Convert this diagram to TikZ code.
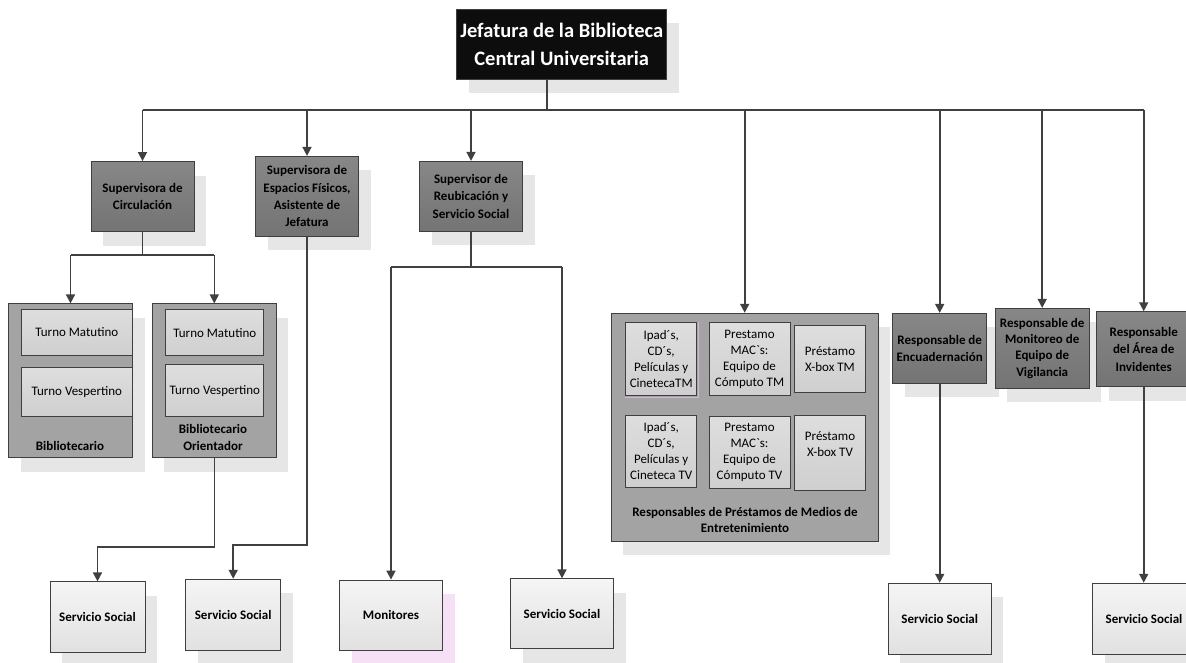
\documentclass[tikz,border=0pt]{standalone}
\usepackage{fontspec}
\setmainfont{Carlito}
\usetikzlibrary{arrows.meta,shadows}

\definecolor{linec}{HTML}{404040}
\definecolor{bordc}{HTML}{3F3F3F}
\definecolor{shadc}{HTML}{E6E6E6}
\definecolor{pinkc}{HTML}{F6E0F6}
\definecolor{pinkedge}{HTML}{D6B4D6}
\definecolor{darkT}{HTML}{878787}
\definecolor{darkB}{HTML}{747474}
\definecolor{contc}{HTML}{A3A3A3}
\definecolor{inT}{HTML}{DEDEDE}
\definecolor{inB}{HTML}{CFCFCF}
\definecolor{leafT}{HTML}{F5F5F5}
\definecolor{leafB}{HTML}{E1E1E1}
\definecolor{topc}{HTML}{0D0D0D}

\tikzset{
  sz/.style 2 args={minimum width=#1pt, minimum height=#2pt},
  base/.style={draw=bordc, line width=0.8pt, inner sep=0pt, align=center},
  shad/.style={drop shadow={shadow xshift=12pt, shadow yshift=-14pt, opacity=1, fill=shadc}},
  pshad/.style={drop shadow={shadow xshift=12pt, shadow yshift=-14pt, opacity=1, fill=pinkc}},
  topbox/.style={base, shad, fill=topc, text=white,
    font=\fontsize{20.5}{27.5}\selectfont\bfseries},
  dark/.style={base, shad, top color=darkT, bottom color=darkB,
    font=\fontsize{13}{17.3}\selectfont\bfseries},
  cont/.style={base, shad, fill=contc},
  inbox/.style={base, top color=inT, bottom color=inB,
    font=\fontsize{13}{16}\selectfont},
  leaf/.style={base, top color=leafT, bottom color=leafB,
    font=\fontsize{13}{16}\selectfont\bfseries},
  lbl/.style={inner sep=0pt, align=center, font=\fontsize{13}{16.3}\selectfont\bfseries},
  txt/.style={inner sep=0pt, align=center, font=\fontsize{13}{16}\selectfont},
  conn/.style={draw=linec, line width=1.6pt},
  arr/.style={conn, -{Triangle[length=9pt,width=9pt]}},
}

\begin{document}
\begin{tikzpicture}[x=1pt, y=-1pt]
\useasboundingbox (0,0) rectangle (1186,662);
\clip (0,0) rectangle (1186,662);

% head of the library
\node[topbox, sz={210}{70}] (jef) at (561.7,44.3) {Jefatura de la Biblioteca\\Central Universitaria};

% supervisors
\node[dark, sz={103}{70}] (circ) at (142.5,196.5) {Supervisora de\\Circulación};
\node[dark, sz={103}{80}] (esp) at (307,196.3) {Supervisora de\\Espacios Físicos,\\Asistente de\\Jefatura};
\node[dark, sz={103}{70}] (reub) at (471,196.3) {Supervisor de\\Reubicación y\\Servicio Social};

% librarian groups
\node[cont, sz={124}{154}] (bib) at (70.5,380.8) {};
\node[inbox, sz={111}{46}] (bibm) at (76.8,332) {Turno Matutino};
\node[inbox, sz={111}{49}] (bibv) at (76.8,392) {Turno Vespertino};
\node[lbl] (bibl) at (70,445.7) {Bibliotecario};

\node[cont, sz={124}{154}] (ori) at (214.3,380.8) {};
\node[inbox, sz={98}{46}] (orim) at (214.8,332.8) {Turno Matutino};
\node[inbox, sz={98}{52}] (oriv) at (214.8,390.7) {Turno Vespertino};
\node[lbl] (oril) at (213,437.5) {Bibliotecario\\Orientador};

% entertainment media loans
\node[cont, sz={267}{228}] (pres) at (744.7,427.2) {};
\node[inbox, sz={71}{73}] (ipadtm) at (661.2,359.2) {Ipad´s,\\CD´s,\\Películas y\\CinetecaTM};
\draw[draw=pinkedge, line width=0.7pt]
  ([xshift=0.9pt]ipadtm.north east) -- ([xshift=0.9pt,yshift=-0.9pt]ipadtm.south east)
  -- ([yshift=-0.9pt]ipadtm.south west);
\node[inbox, sz={81}{73}] (mactm) at (749.5,359.2) {Prestamo\\MAC\textasciigrave s:\\Equipo de\\Cómputo TM};
\node[inbox, sz={71}{67}] (xbtm) at (830,359) {Préstamo\\X-box TM};
\node[inbox, sz={71}{72}] (ipadtv) at (661.2,451) {Ipad´s,\\CD´s,\\Películas y\\Cineteca TV};
\node[inbox, sz={81}{72}] (mactv) at (749.5,452.6) {Prestamo\\MAC\textasciigrave s:\\Equipo de\\Cómputo TV};
\node[inbox, sz={71}{75}] (xbtv) at (830,452.5) {};
\node[txt] (xbtvt) at (830,444) {Préstamo\\X-box TV};
\node[lbl] (presl) at (745,520.2) {Responsables de Préstamos de Medios de\\Entretenimiento};

% other responsibles
\node[dark, sz={94}{70}] (enc) at (939.7,348.3) {Responsable de\\Encuadernación};
\node[dark, sz={94}{80}, font=\fontsize{13}{16.3}\selectfont\bfseries] (mvig) at (1042.2,348.3) {Responsable de\\Monitoreo de\\Equipo de\\Vigilancia};
\node[dark, sz={94}{75}] (inv) at (1143.7,349.2) {Responsable\\del Área de\\Invidentes};

% social service and monitors
\node[leaf, shad, sz={95}{71}] (ss1) at (97.5,617.3) {Servicio Social};
\node[leaf, shad, sz={95}{71}] (ss2) at (233.2,614.7) {Servicio Social};
\node[leaf, pshad, sz={103}{70}] (moni) at (391,615) {Monitores};
\node[leaf, shad, sz={103}{70}] (ss3) at (562,613.8) {Servicio Social};
\node[leaf, shad, sz={103}{71}] (ss4) at (939.7,618.7) {Servicio Social};
\node[leaf, shad, sz={103}{71}] (ss5) at (1144,618.7) {Servicio Social};

% connectors
\coordinate (bus) at (546.7,110);
\draw[conn] (bus |- jef.south) -- (bus);
\draw[conn] (bus -| circ.north) -- (bus -| inv.north);
\foreach \n in {circ,esp,reub,pres,enc,mvig,inv}
  \draw[arr] (bus -| \n.north) -- (\n.north);

\coordinate (cbus) at (142.5,255);
\draw[conn] (circ.south) -- (cbus);
\draw[conn] (cbus -| bib.north) -- (cbus -| ori.north);
\draw[arr] (cbus -| bib.north) -- (bib.north);
\draw[arr] (cbus -| ori.north) -- (ori.north);

\coordinate (ojoin) at (214.3,546.7);
\draw[arr] (ori.south) -- (ojoin) -| (ss1.north);

\coordinate (ejoin) at (307,545);
\draw[arr] (esp.south) -- (ejoin) -| (ss2.north);

\coordinate (rbus) at (471,266.7);
\draw[conn] (reub.south) -- (rbus);
\draw[conn] (rbus -| moni.north) -- (rbus -| ss3.north);
\draw[arr] (rbus -| moni.north) -- (moni.north);
\draw[arr] (rbus -| ss3.north) -- (ss3.north);

\draw[arr] (enc.south) -- (enc.south |- ss4.north);
\draw[arr] (inv.south) -- (inv.south |- ss5.north);
\end{tikzpicture}
\end{document}
